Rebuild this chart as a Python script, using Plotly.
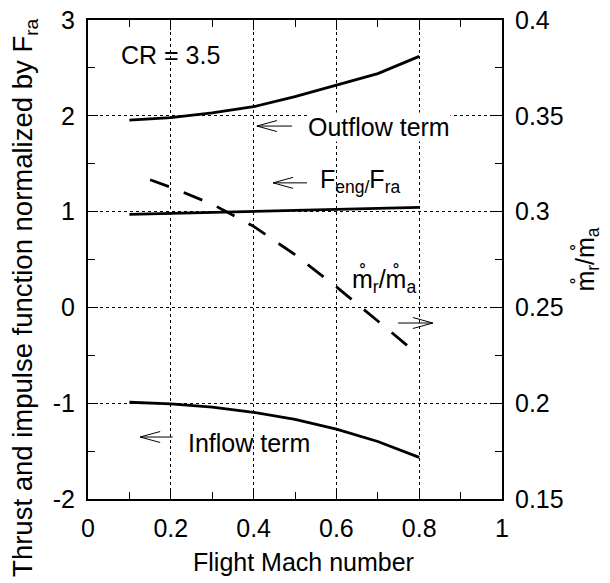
import plotly.graph_objects as go

# ---- data ----
mach = [0.1, 0.2, 0.3, 0.4, 0.5, 0.6, 0.7, 0.8]
outflow_term = [1.955, 1.98, 2.03, 2.095, 2.20, 2.32, 2.44, 2.62]
feng_fra = [0.97, 0.98, 0.99, 1.00, 1.01, 1.02, 1.035, 1.045]
inflow_term = [-0.99, -1.008, -1.04, -1.095, -1.17, -1.27, -1.40, -1.565]

mach_ratio = [0.15, 0.2, 0.3, 0.4, 0.5, 0.6, 0.7, 0.8]
mass_ratio = [0.3166, 0.3127, 0.3039, 0.2923, 0.2775, 0.2607, 0.2429, 0.2249]

x_ticks = [0, 0.2, 0.4, 0.6, 0.8, 1]
x_tick_text = ["0", "0.2", "0.4", "0.6", "0.8", "1"]
y_ticks = [-2, -1, 0, 1, 2, 3]
y_tick_text = ["-2", "-1", "0", "1", "2", "3"]
y2_ticks = [0.15, 0.2, 0.25, 0.3, 0.35, 0.4]
y2_tick_text = ["0.15", "0.2", "0.25", "0.3", "0.35", "0.4"]

FONT = "Liberation Sans, Arial, sans-serif"
FS = 25

fig = go.Figure()
fig.add_trace(go.Scatter(x=mach, y=outflow_term, mode="lines",
                         line=dict(color="black", width=2.8), showlegend=False))
fig.add_trace(go.Scatter(x=mach, y=feng_fra, mode="lines",
                         line=dict(color="black", width=2.8), showlegend=False))
fig.add_trace(go.Scatter(x=mach, y=inflow_term, mode="lines",
                         line=dict(color="black", width=2.8), showlegend=False))
fig.add_trace(go.Scatter(x=mach_ratio, y=mass_ratio, mode="lines", yaxis="y2",
                         line=dict(color="black", width=2.8, dash="20px,16px"),
                         showlegend=False))

# text labels
labels = [
    dict(x=0.077, y=2.635, text="CR = 3.5", bg=None),
    dict(x=0.529, y=1.883, text="Outflow term", bg="white"),
    dict(x=0.558, y=1.32, text="F<sub>eng/</sub>F<sub>ra</sub>", bg=None),
    dict(x=0.636, y=0.286, text="m\u030a<sub>r</sub>/m\u030a<sub>a</sub>", bg=None),
    dict(x=0.239, y=-1.415, text="Inflow term", bg=None),
]
for lb in labels:
    fig.add_annotation(x=lb["x"], y=lb["y"], xref="x", yref="y", text=lb["text"],
                       showarrow=False, xanchor="left", yanchor="middle",
                       font=dict(family=FONT, size=FS, color="black"),
                       bgcolor=lb["bg"] if lb["bg"] else "rgba(0,0,0,0)",
                       borderpad=0)

# axis titles placed as paper annotations
fig.add_annotation(x=-0.152, y=0.42, xref="paper", yref="paper",
                   text="Thrust and impulse function normalized by F<sub>ra</sub>",
                   textangle=-90, showarrow=False, xanchor="center", yanchor="middle",
                   font=dict(family=FONT, size=27.5, color="black"))
fig.add_annotation(x=0.52, y=-0.132, xref="paper", yref="paper",
                   text="Flight Mach number", showarrow=False,
                   xanchor="center", yanchor="middle",
                   font=dict(family=FONT, size=FS, color="black"))

# open-headed pointer arrows: (tail x, head x, y)
arrows = [
    (0.493, 0.408, 1.893),
    (0.529, 0.447, 1.30),
    (0.205, 0.126, -1.353),
    (0.749, 0.833, -0.163),
]
px_x = 1 / 414.0
px_y = 1 / 95.8
for tail, head, yy in arrows:
    d = 1 if head > tail else -1
    hx = head - d * 20 * px_x
    path = (f"M {tail} {yy} L {head} {yy} "
            f"M {hx} {yy + 5.5 * px_y} L {head} {yy} L {hx} {yy - 5.5 * px_y}")
    fig.add_shape(type="path", path=path, xref="x", yref="y",
                  line=dict(color="black", width=1))

axis_common = dict(showline=True, linecolor="black", linewidth=2,
                   ticks="inside", tickcolor="black", tickwidth=1, ticklen=10,
                   tickfont=dict(family=FONT, size=FS, color="black"),
                   zeroline=False, automargin=False)

fig.update_layout(
    width=610, height=583,
    margin=dict(l=88, r=108, t=20, b=84),
    paper_bgcolor="white", plot_bgcolor="white",
    xaxis=dict(range=[0, 1], tickvals=x_ticks, ticktext=x_tick_text,
               mirror="ticks", showgrid=True, gridcolor="black", gridwidth=1,
               griddash="3px,3px", ticklabelstandoff=6,
               minor=dict(dtick=0.1, ticks="inside", ticklen=7, tickcolor="black",
                          showgrid=False),
               **axis_common),
    yaxis=dict(range=[-2, 3], tickvals=y_ticks, ticktext=y_tick_text, mirror=True,
               showgrid=True, gridcolor="black", gridwidth=1, griddash="3px,3px",
               ticklabelstandoff=6,
               minor=dict(dtick=0.5, ticks="inside", ticklen=7, tickcolor="black",
                          showgrid=False),
               **axis_common),
    yaxis2=dict(range=[0.15, 0.4], tickvals=y2_ticks, ticktext=y2_tick_text,
                overlaying="y", side="right", showgrid=False, ticklabelstandoff=6,
                minor=dict(dtick=0.025, ticks="inside", ticklen=7, tickcolor="black",
                           showgrid=False),
                title=dict(text="m\u030a<sub>r</sub>/m\u030a<sub>a</sub>", standoff=14,
                           font=dict(family=FONT, size=FS, color="black")),
                **axis_common),
)

fig.write_html("out.html",
               config={"displayModeBar": False},
               post_script="document.body.style.margin='0';"
                           "document.body.style.overflow='hidden';")
